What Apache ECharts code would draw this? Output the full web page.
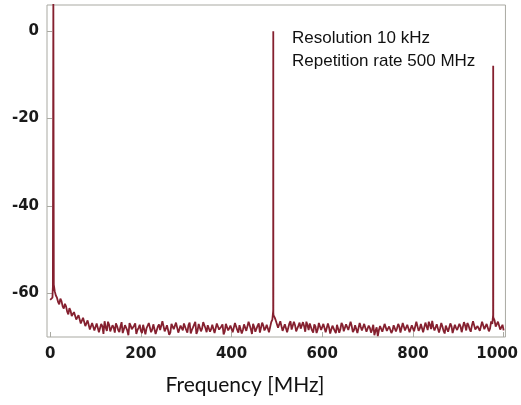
<!DOCTYPE html>
<html>
<head>
<meta charset="utf-8">
<script src="https://cdn.jsdelivr.net/npm/echarts@6/dist/echarts.min.js"></script>
<style>
html,body{margin:0;padding:0;background:#fff;}
#chart{width:521px;height:405px;}
</style>
</head>
<body>
<div id="chart"></div>
<script>
// Noise floor sampled every 5 MHz from 0 to 1000 MHz (dB)
const baseStart = 0;
const baseStep = 5;
const baseLevels = [
  -61.5, -61.0, -59.5, -61.0, -62.5, -61.8, -63.5, -63.0, -64.8, -64.0,
  -65.5, -64.6, -66.3, -65.4, -66.8, -66.0, -67.4, -66.5, -67.9, -67.0,
  -68.3, -67.1, -68.8, -67.5, -66.4, -68.6, -67.2, -68.9, -67.8, -66.9,
  -68.4, -67.6, -69.1, -67.3, -68.5, -66.8, -68.2, -67.4, -69.3, -67.9,
  -68.6, -67.2, -69.4, -67.7, -66.6, -68.3, -67.5, -68.9, -67.1, -68.7,
  -66.2, -68.1, -67.6, -69.0, -67.4, -68.5, -67.0, -68.8, -67.7, -66.9,
  -68.4, -67.3, -69.2, -67.8, -66.5, -68.6, -67.2, -68.1, -66.3, -68.9,
  -67.5, -68.2, -67.0, -69.5, -67.6, -68.3, -67.1, -68.7, -66.7, -68.0,
  -67.4, -68.8, -67.2, -69.0, -67.6, -68.4, -66.8, -68.5, -67.3, -69.3,
  -67.7, -68.1, -66.9, -68.6, -67.4, -68.0, -67.5, -68.7, -66.0, -65.5,
  -66.3, -67.8, -66.5, -68.2, -67.0, -68.6, -66.4, -68.0, -67.3, -68.8,
  -66.7, -68.1, -67.5, -66.5, -68.4, -67.2, -69.0, -67.6, -68.3, -67.1,
  -68.5, -67.4, -68.9, -67.8, -68.3, -67.0, -69.1, -67.6, -68.2, -67.3,
  -68.7, -66.8, -68.0, -67.5, -68.4, -67.1, -68.8, -67.7, -68.2, -67.4,
  -68.6, -67.9, -68.3, -69.6, -67.8, -68.4, -67.5, -68.9, -67.3, -68.1,
  -67.8, -68.5, -67.2, -68.0, -67.6, -68.7, -66.9, -68.2, -67.5, -68.6,
  -67.0, -68.3, -66.6, -68.1, -67.4, -68.6, -67.1, -66.5, -68.2, -67.7,
  -68.8, -67.3, -68.0, -67.6, -69.2, -67.8, -68.4, -67.5, -68.9, -67.9,
  -68.3, -67.6, -68.7, -67.3, -66.8, -68.2, -67.4, -66.7, -68.0, -67.1,
  -68.4, -66.9, -67.8, -66.6, -68.1, -67.0, -66.2, -67.3, -66.9, -68.0,
  -68.5
];
// Noise floor at the in-between points, 12.5 to 997.5 MHz every 5 MHz (dB)
const midStart = 12.5;
const midStep = 5;
const midLevels = [
  -60.5, -62.0, -61.2, -63.0, -62.4, -64.2, -63.4, -65.2, -64.3, -66.0,
  -65.0, -66.9, -65.6, -67.5, -66.2, -68.3, -66.8, -68.5,
  -66.9, -68.9, -67.0, -69.3, -67.8, -66.5, -68.7, -67.3, -69.0, -67.5,
  -68.9, -66.6, -68.2, -67.0, -69.6, -67.4, -68.6, -66.9, -68.4, -67.2,
  -69.1, -67.5, -68.0, -66.8, -68.9, -67.1, -69.3, -67.6, -68.4, -66.4,
  -68.7, -67.3, -69.5, -67.0, -68.2, -66.7, -69.0, -67.4, -68.5, -67.1,
  -69.0, -66.7, -68.4, -67.5, -69.3, -67.0, -68.7, -66.6, -68.0, -67.3,
  -68.8, -67.2, -69.1, -66.9, -68.3, -67.6, -69.4, -67.0, -68.5, -67.4,
  -68.9, -66.8, -68.4, -67.3, -69.2, -67.1, -68.6, -66.5, -68.2, -67.0,
  -68.8, -67.4, -69.0, -66.7, -68.5, -67.2, -68.9, -66.6, -65.0, -66.2,
  -67.9, -66.4, -68.6, -67.1, -68.9, -66.9, -68.3, -66.5, -68.7, -67.4,
  -68.1, -66.6, -68.8, -67.3, -66.9, -68.5, -67.1, -69.1, -66.8, -68.4,
  -67.0, -68.9, -66.9, -69.2, -67.4, -68.6, -67.2, -69.0, -66.8, -68.7,
  -67.1, -68.4, -66.5, -68.9, -67.3, -69.1, -66.8, -68.5, -67.0, -68.8,
  -67.4, -69.0, -67.2, -68.5, -69.8, -67.5, -68.8, -67.0, -68.6, -67.6,
  -69.1, -67.3, -68.7, -67.0, -69.0, -66.8, -68.5, -67.2, -68.9, -67.3,
  -68.7, -66.5, -68.6, -67.0, -68.9, -66.7, -68.4, -67.2, -66.3, -68.5,
  -67.1, -69.0, -66.8, -68.6, -67.4, -68.8, -66.9, -69.1, -67.2, -68.4,
  -67.0, -68.9, -66.6, -68.5, -67.3, -68.8, -66.4, -68.3, -67.5, -68.6,
  -66.5, -68.2, -67.0, -68.7, -66.4, -65.8, -67.6, -66.5, -68.3, -67.2
];
// Narrow comb lines (MHz, dB)
const peakFreqs  = [6.0, 7.0, 8.0,  491.8, 492.0, 492.2,  976.8, 977.0, 977.2];
const peakLevels = [-58.5, 8.0, -58.0,  -64.0, 0.0, -64.5,  -65.0, -7.9, -65.5];

const xTicks = [0, 200, 400, 600, 800, 1000];
const yTicks = [0, -20, -40, -60];
const noteLines = ['Resolution 10 kHz', 'Repetition rate 500 MHz'];
const xTitle = 'Frequency [MHz]';

const points = [];
baseLevels.forEach((v, i) => points.push([baseStart + i * baseStep, v]));
midLevels.forEach((v, i) => points.push([midStart + i * midStep, v]));
peakFreqs.forEach((f, i) => points.push([f, peakLevels[i]]));
points.sort((a, b) => a[0] - b[0]);

const chart = echarts.init(document.getElementById('chart'), null, {renderer: 'canvas'});
const gray = '#a9a9a2';
const labelFont = {fontFamily: 'DejaVu Sans', fontWeight: 'bold', fontSize: 15, color: '#1a1a1a'};
chart.setOption({
  animation: false,
  backgroundColor: '#ffffff',
  grid: {left: 47, top: 5, width: 459, height: 332, show: true, borderColor: gray, borderWidth: 1, backgroundColor: 'transparent'},
  xAxis: {
    type: 'value', min: -7, max: 1004,
    axisLine: {show: false, onZero: false},
    splitLine: {show: false},
    axisTick: {show: true, inside: true, length: 5, lineStyle: {color: gray}, customValues: xTicks},
    axisLabel: Object.assign({
      customValues: xTicks, margin: 10,
      formatter: v => v === 1000 ? '{r|1000}' : String(v),
      rich: {r: Object.assign({padding: [0, 13, 0, 0]}, labelFont)}
    }, labelFont)
  },
  yAxis: {
    type: 'value', min: -70, max: 6,
    axisLine: {show: false, onZero: false},
    splitLine: {show: false},
    axisTick: {show: true, inside: true, length: 5, lineStyle: {color: gray}, customValues: yTicks},
    axisLabel: Object.assign({customValues: yTicks, margin: 8}, labelFont)
  },
  series: [{
    type: 'line', data: points, showSymbol: false, clip: true,
    lineStyle: {color: '#85202f', width: 1.8}, itemStyle: {color: '#85202f'}
  }],
  graphic: [
    {type: 'text', left: 292, top: 30, style: {text: noteLines[0], font: '17px "Liberation Sans"', fill: '#111'}},
    {type: 'text', left: 292, top: 53, style: {text: noteLines[1], font: '17px "Liberation Sans"', fill: '#111'}},
    {type: 'text', x: 245, y: 385, style: {text: xTitle, font: '21px Lato', fill: '#111', align: 'center', verticalAlign: 'middle'}}
  ]
});
</script>
</body>
</html>
